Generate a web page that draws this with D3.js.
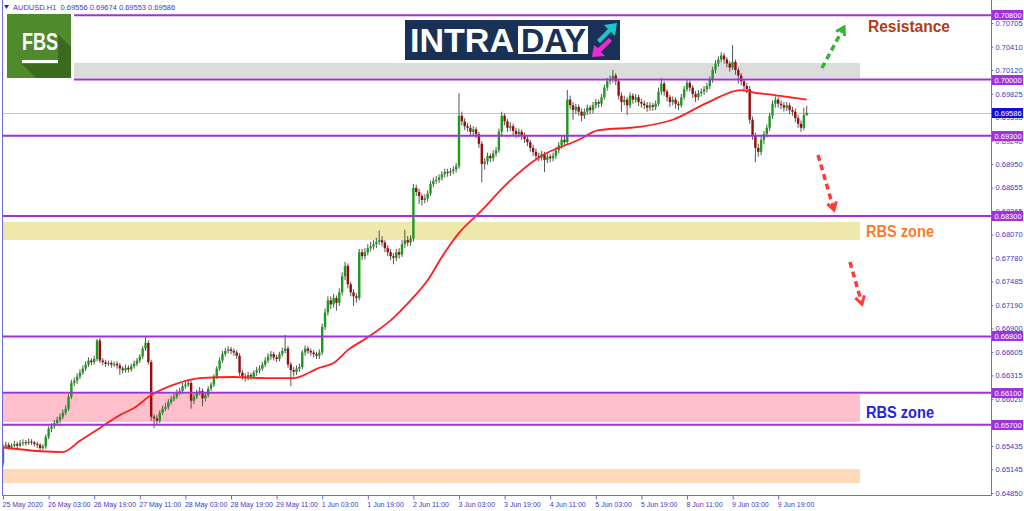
<!DOCTYPE html>
<html>
<head>
<meta charset="utf-8">
<script src="https://cdn.jsdelivr.net/npm/d3@7"></script>
<style>
  body { margin: 0; background: #fff; }
  svg { display: block; font-family: "Liberation Sans", Arial, sans-serif; }
</style>
</head>
<body>
<svg id="chart" width="1024" height="511"></svg>
<script>
// AUDUSD H1 candles, prices in 1/10000 (open of a bar = close of the bar before)
const firstOpen = 6522;
const closes = [
  6543,6545,6542,6544,6546,6544,6547,6548,6547,6549, 6548,6546,6545,6541,6543,6555,6565,6568,6572,6576,
  6580,6585,6590,6605,6622,6625,6630,6635,6640,6645, 6650,6648,6652,6675,6650,6648,6646,6647,6645,6646,
  6644,6640,6638,6641,6639,6643,6646,6650,6655,6665, 6672,6648,6580,6578,6575,6585,6590,6592,6598,6602,
  6605,6610,6612,6618,6620,6622,6600,6605,6610,6612, 6603,6607,6615,6620,6630,6640,6650,6658,6662,6664,
  6662,6660,6656,6635,6630,6628,6632,6630,6635,6638, 6640,6645,6650,6655,6658,6654,6652,6658,6662,6665,
  6645,6638,6636,6640,6642,6660,6665,6662,6660,6658, 6656,6660,6692,6710,6725,6720,6728,6722,6735,6755,
  6768,6745,6735,6730,6728,6785,6780,6785,6790,6792, 6795,6798,6800,6797,6790,6785,6780,6778,6785,6782,
  6795,6800,6797,6802,6865,6860,6855,6850,6852,6858, 6870,6874,6875,6878,6882,6885,6884,6886,6888,6892,
  6955,6948,6942,6940,6935,6938,6932,6920,6895,6898, 6905,6902,6908,6912,6935,6955,6948,6940,6942,6936,
  6932,6935,6930,6926,6922,6915,6910,6905,6903,6907, 6900,6904,6902,6905,6912,6918,6925,6922,6975,6968,
  6962,6966,6960,6955,6960,6965,6962,6968,6972,6970, 6978,6990,6998,7000,7005,6998,6980,6972,6975,6968,
  6980,6975,6978,6972,6970,6968,6965,6968,6966,6970, 6985,6995,6985,6978,6972,6975,6970,6968,6978,6988,
  6996,6990,6982,6978,6983,6985,6988,6992,7000,7012, 7020,7025,7030,7025,7020,7015,7022,7012,7005,6998,
  6992,6988,6950,6930,6915,6910,6925,6932,6940,6955, 6970,6975,6970,6968,6965,6968,6962,6960,6952,6945,
  6940,6955.6,6958.6
];
const highs = [
  6546,6549,6548,6547,6550,6549,6551,6552,6551,6553, 6552,6550,6549,6547,6546,6558,6568,6572,6576,6580,
  6584,6589,6594,6608,6626,6629,6634,6639,6644,6649, 6654,6653,6656,6677,6678,6653,6651,6650,6650,6649,
  6649,6647,6643,6645,6644,6646,6650,6653,6658,6668, 6679,6675,6651,6583,6582,6588,6594,6597,6602,6606,
  6609,6614,6616,6622,6625,6626,6625,6608,6614,6617, 6615,6610,6618,6623,6633,6643,6654,6662,6666,6668,
  6667,6665,6663,6659,6638,6634,6636,6635,6638,6642, 6644,6648,6654,6659,6662,6661,6657,6661,6666,6682,
  6668,6648,6642,6644,6646,6663,6669,6668,6665,6663, 6661,6664,6696,6715,6730,6730,6733,6731,6740,6760,
  6773,6771,6748,6739,6734,6789,6789,6790,6795,6798, 6800,6803,6812,6805,6800,6794,6789,6784,6789,6790,
  6800,6813,6805,6806,6870,6869,6864,6858,6857,6862, 6874,6878,6880,6882,6886,6889,6889,6890,6892,6896,
  6983,6960,6952,6946,6944,6942,6941,6935,6923,6902, 6909,6908,6912,6916,6939,6960,6958,6951,6947,6945,
  6940,6939,6938,6934,6930,6925,6919,6914,6909,6911, 6910,6908,6907,6909,6916,6922,6929,6930,6987,6980,
  6972,6970,6969,6964,6964,6969,6968,6972,6976,6975, 6982,6994,7002,7005,7012,7008,7001,6984,6980,6978,
  6984,6983,6982,6981,6976,6974,6972,6972,6971,6974, 6990,7002,6998,6988,6981,6979,6978,6973,6982,6992,
  7001,6999,6993,6986,6987,6989,6992,6996,7004,7016, 7024,7029,7034,7033,7028,7023,7043,7025,7015,7008,
  7001,6996,6992,6954,6934,6920,6929,6936,6944,6959, 6974,6979,6978,6974,6972,6972,6971,6966,6964,6956,
  6949,6965,6967.4
];
const lows = [
  6518,6540,6539,6539,6542,6541,6542,6544,6544,6545, 6545,6543,6541,6536,6538,6540,6552,6561,6565,6569,
  6572,6577,6582,6587,6602,6618,6621,6627,6632,6637, 6642,6644,6645,6649,6647,6644,6642,6643,6641,6642,
  6640,6632,6634,6635,6635,6636,6640,6643,6647,6652, 6662,6645,6575,6566,6570,6572,6582,6587,6589,6595,
  6599,6602,6607,6609,6615,6617,6590,6596,6602,6607, 6593,6599,6604,6612,6617,6627,6637,6647,6655,6659,
  6658,6656,6652,6631,6626,6624,6625,6626,6627,6631, 6634,6637,6642,6647,6651,6650,6648,6649,6655,6659,
  6641,6618,6630,6632,6636,6639,6656,6658,6656,6654, 6652,6652,6657,6688,6706,6714,6716,6712,6718,6731,
  6750,6740,6730,6718,6722,6725,6775,6776,6781,6786, 6788,6790,6794,6792,6785,6780,6775,6770,6774,6777,
  6779,6790,6792,6793,6798,6855,6845,6843,6846,6848, 6855,6866,6870,6871,6874,6878,6879,6880,6882,6884,
  6889,6943,6937,6935,6930,6931,6927,6915,6872,6888, 6894,6897,6898,6904,6909,6931,6943,6935,6936,6931,
  6927,6928,6925,6921,6917,6910,6905,6900,6898,6899, 6885,6896,6897,6898,6901,6908,6914,6917,6919,6963,
  6950,6957,6955,6948,6951,6956,6957,6958,6964,6965, 6966,6975,6986,6994,6996,6993,6975,6960,6968,6956,
  6964,6970,6971,6967,6965,6963,6960,6961,6961,6962, 6967,6981,6980,6973,6966,6968,6964,6962,6965,6975,
  6985,6985,6977,6972,6974,6979,6981,6984,6988,6996, 7008,7016,7021,7020,7015,7010,7012,7006,6995,6993,
  6986,6983,6945,6925,6897,6904,6906,6920,6928,6936, 6951,6965,6965,6963,6960,6961,6957,6955,6947,6940,
  6935,6937,6955.3
];

// moving average (red line), sampled at these bars
const maBars   = [0, 13, 21, 27, 34, 41, 46, 52, 60, 69, 81, 93, 102, 108, 111, 116, 121, 128, 136, 143,
                  149, 154, 160, 168, 177, 188, 202, 209, 223, 235, 247, 259, 265, 270, 276, 282];
const maValues = [6542, 6537, 6536, 6550, 6566, 6582, 6591, 6607, 6620, 6628, 6629.5, 6628, 6628, 6636, 6641, 6647, 6663, 6679, 6700, 6725,
                  6750, 6779, 6809, 6837, 6871, 6903, 6925, 6937, 6941, 6950, 6971, 6987, 6983, 6981, 6978, 6975];

// one time label every 16 bars
const timeLabels = ["25 May 2020", "26 May 03:00", "26 May 19:00", "27 May 11:00", "28 May 03:00", "28 May 19:00",
  "29 May 11:00", "1 Jun 03:00", "1 Jun 19:00", "2 Jun 11:00", "3 Jun 03:00", "3 Jun 19:00", "4 Jun 11:00",
  "5 Jun 03:00", "5 Jun 19:00", "8 Jun 11:00", "9 Jun 03:00", "9 Jun 19:00"];
const priceTicks = [0.70705, 0.70410, 0.70120, 0.69825, 0.69535, 0.69240, 0.68950, 0.68655, 0.68365, 0.68070,
  0.67780, 0.67485, 0.67190, 0.66900, 0.66605, 0.66315, 0.66020, 0.65725, 0.65435, 0.65145, 0.64850];

const levels = [0.70800, 0.70000, 0.69300, 0.68300, 0.66800, 0.66100, 0.65700];
const currentPrice = 0.69586;
const zoneTops    = [0.70207, 0.68226, 0.66083, 0.65149];
const zoneBottoms = [0.70018, 0.68002, 0.65734, 0.64974];
const zoneEndBar = 300.7;
const header = "AUDUSD.H1  0.69556 0.69674 0.69553 0.69586";

const svg = d3.select("#chart");
const axisColor = "#6b6bdc", textColor = "#3b3bc4", levelColor = "#9d34d8";
const plotLeft = 2.5, plotRight = 991.5, plotBottom = 495.5, logoRight = 74;

const x = d3.scaleLinear().domain([0, 272]).range([3, 778.2]);
const y = d3.scaleLinear().domain([0.64850, 0.70705]).range([493, 23]);
const py = v => y(v / 10000);

svg.append("defs").append("clipPath").attr("id", "plot")
  .append("rect").attr("x", plotLeft).attr("y", 0).attr("width", plotRight - plotLeft).attr("height", plotBottom);
const g = svg.append("g").attr("clip-path", "url(#plot)");

// zones
const zoneColors = ["#dcdcdc", "#eee8aa", "#ffc0cb", "#ffdab9"];
zoneTops.forEach((t, i) => {
  const x0 = i === 0 ? logoRight : plotLeft;
  g.append("rect")
    .attr("x", x0).attr("width", x(zoneEndBar) - x0)
    .attr("y", y(t)).attr("height", y(zoneBottoms[i]) - y(t))
    .attr("fill", zoneColors[i]);
});

// current price line
g.append("line")
  .attr("x1", plotLeft).attr("x2", plotRight)
  .attr("y1", Math.round(y(currentPrice)) + 0.5).attr("y2", Math.round(y(currentPrice)) + 0.5)
  .attr("stroke", "#c4c4c4").attr("stroke-width", 1);

// candles
const bars = closes.map((c, i) => ({
  i, o: i === 0 ? firstOpen : closes[i - 1], h: highs[i], l: lows[i], c
}));
const cg = g.append("g");
cg.selectAll("line.wick").data(bars).join("line")
  .attr("class", "wick")
  .attr("x1", d => x(d.i)).attr("x2", d => x(d.i))
  .attr("y1", d => py(d.h)).attr("y2", d => py(d.l))
  .attr("stroke", "#555").attr("stroke-width", 1);
cg.selectAll("rect.body").data(bars).join("rect")
  .attr("class", "body")
  .attr("x", d => x(d.i) - 1.2).attr("width", 2.4)
  .attr("y", d => py(Math.max(d.o, d.c)))
  .attr("height", d => Math.max(1, Math.abs(py(d.o) - py(d.c))))
  .attr("fill", d => d.c >= d.o ? "#1d9a1d" : "#950d0d");

// moving average
const line = d3.line().x((d, i) => x(maBars[i])).y(d => py(d)).curve(d3.curveMonotoneX);
g.append("path").datum(maValues)
  .attr("fill", "none").attr("stroke", "#ff1f1f").attr("stroke-width", 1.8)
  .attr("d", line);

// horizontal levels
levels.forEach(lv => {
  const x0 = lv >= 0.70 ? logoRight : plotLeft;
  g.append("line")
    .attr("x1", x0).attr("x2", plotRight)
    .attr("y1", y(lv)).attr("y2", y(lv))
    .attr("stroke", levelColor).attr("stroke-width", 2);
});

// frame
svg.append("path")
  .attr("d", `M${plotLeft},0 V${plotBottom} H${plotRight} V0`)
  .attr("fill", "none").attr("stroke", axisColor).attr("stroke-width", 1);

// price axis
const yAxis = svg.append("g").attr("transform", `translate(${plotRight},0)`)
  .call(d3.axisRight(y).tickValues(priceTicks).tickFormat(d3.format(".5f")).tickSize(2).tickPadding(2));
yAxis.select(".domain").remove();
yAxis.selectAll("line").attr("stroke", axisColor);
yAxis.selectAll("text").attr("fill", textColor).style("font-size", "7.5px")
  .style("font-family", "'Liberation Sans', Arial, sans-serif");

// time axis
const xAxis = svg.append("g").attr("transform", `translate(0,${plotBottom})`)
  .call(d3.axisBottom(x).tickValues(d3.range(0, 273, 16)).tickFormat((d, i) => timeLabels[i]).tickSize(4).tickPadding(3));
xAxis.select(".domain").remove();
xAxis.selectAll("line").attr("stroke", axisColor);
xAxis.selectAll("text").attr("fill", textColor).attr("text-anchor", "start").attr("dx", -1)
  .style("font-size", "7px").style("font-family", "'Liberation Sans', Arial, sans-serif");

// right-hand price boxes (they cover the axis labels behind them, as in the terminal)
function priceBox(v, fill) {
  const yy = Math.round(y(v));
  svg.append("rect").attr("x", 992).attr("y", yy - 5).attr("width", 31).attr("height", 10).attr("fill", fill);
  svg.append("text").attr("x", 994.5).attr("y", yy + 3)
    .attr("fill", "#fff").style("font-size", "7.5px").text(v.toFixed(5));
}
levels.forEach(lv => priceBox(lv, levelColor));
priceBox(currentPrice, "#1010c8");

// header
svg.append("path").attr("d", "M4,5 L9,5 L6.5,9 Z").attr("fill", "#2a2ab0");
svg.append("text").attr("x", 13).attr("y", 10).attr("fill", textColor)
  .style("font-size", "7.5px").attr("xml:space", "preserve").text(header);

// FBS logo
const fbs = svg.append("g");
fbs.append("rect").attr("x", 7).attr("y", 14).attr("width", 64).attr("height", 64).attr("fill", "#4f8b2d");
fbs.append("path").attr("d", "M22,64 L58,64 L58,34 L71,47 L71,78 L36,78 Z").attr("fill", "#3b6a1f");
fbs.append("text").attr("x", 22).attr("y", 50).attr("fill", "#fff")
  .attr("textLength", 36).attr("lengthAdjust", "spacingAndGlyphs")
  .style("font-size", "24px").style("font-weight", "bold").text("FBS");
fbs.append("rect").attr("x", 22).attr("y", 60).attr("width", 36).attr("height", 3).attr("fill", "#fff");

// INTRADAY logo
const intra = svg.append("g");
intra.append("rect").attr("x", 405).attr("y", 20).attr("width", 215).attr("height", 40).attr("fill", "#1a3157");
intra.append("text").attr("x", 410).attr("y", 52).attr("fill", "#fff")
  .attr("textLength", 104).attr("lengthAdjust", "spacingAndGlyphs")
  .style("font-size", "33px").style("font-weight", "bold").text("INTRA");
intra.append("rect").attr("x", 518).attr("y", 26).attr("width", 70).attr("height", 28).attr("fill", "#fff");
intra.append("text").attr("x", 521).attr("y", 52).attr("fill", "#1a3157")
  .attr("textLength", 65).attr("lengthAdjust", "spacingAndGlyphs")
  .style("font-size", "33px").style("font-weight", "bold").text("DAY");
intra.append("path").attr("d", "M597,40 L608,29 L604,25 L617,23 L615,36 L611,32 L600,43 Z").attr("fill", "#1ec6cc");
intra.append("path").attr("d", "M612,41 L601,52 L605,56 L592,57 L594,45 L598,48 L609,38 Z").attr("fill", "#e82bd2");

// dashed arrows
function dashedArrow(x1, y1, x2, y2, color) {
  svg.append("line").attr("x1", x1).attr("y1", y1).attr("x2", x2).attr("y2", y2)
    .attr("stroke", color).attr("stroke-width", 3.5).attr("stroke-dasharray", "6,4");
  const a = Math.atan2(y2 - y1, x2 - x1), L = 9, s = 0.55;
  svg.append("path")
    .attr("d", `M${x2 - L * Math.cos(a - s)},${y2 - L * Math.sin(a - s)} L${x2},${y2} L${x2 - L * Math.cos(a + s)},${y2 - L * Math.sin(a + s)}`)
    .attr("fill", "none").attr("stroke", color).attr("stroke-width", 3);
}
dashedArrow(822, 68, 844, 27, "#35b535");
dashedArrow(818, 155, 834, 210, "#ff3b3b");
dashedArrow(850, 262, 862, 304, "#ff3b3b");

// annotations
svg.append("text").attr("x", 868).attr("y", 32).attr("fill", "#b23a17")
  .attr("textLength", 82).attr("lengthAdjust", "spacingAndGlyphs")
  .style("font-size", "16px").style("font-weight", "bold").text("Resistance");
svg.append("text").attr("x", 866).attr("y", 237).attr("fill", "#ff7a2c")
  .attr("textLength", 68).attr("lengthAdjust", "spacingAndGlyphs")
  .style("font-size", "16px").style("font-weight", "bold").text("RBS zone");
svg.append("text").attr("x", 866).attr("y", 418).attr("fill", "#2323e0")
  .attr("textLength", 68).attr("lengthAdjust", "spacingAndGlyphs")
  .style("font-size", "16px").style("font-weight", "bold").text("RBS zone");
</script>
</body>
</html>
